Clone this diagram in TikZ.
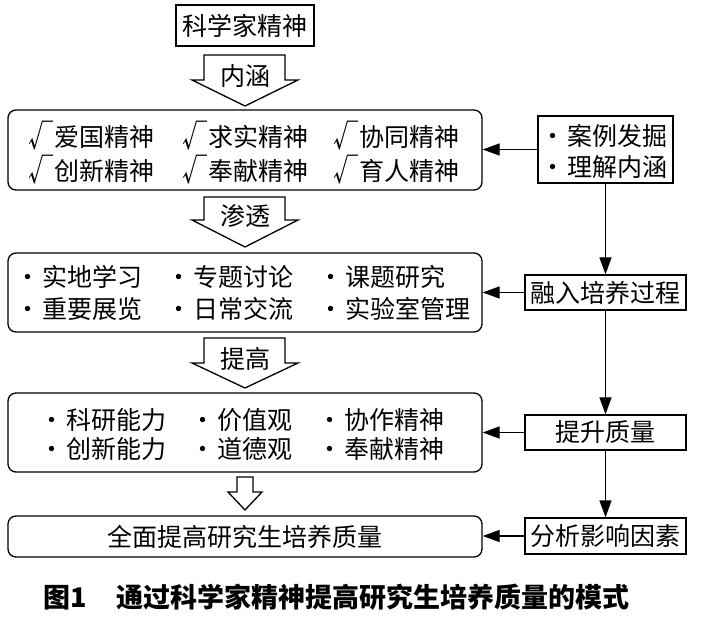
\documentclass[tikz,border=0pt]{standalone}
\usepackage{fontspec}
\setmainfont{Noto Sans CJK SC}
\usetikzlibrary{arrows.meta}
\newcommand\bul{\makebox[27pt][l]{·}}
\newcommand\chk{\makebox[26pt][l]{\raisebox{-1pt}{\scalebox{1}[1.2]{√}}}}
\tikzset{
  rbox/.style={draw, rounded corners=8pt, line width=1.3pt, inner sep=0pt},
  sbox/.style={draw, line width=1.3pt, inner sep=0pt, font=\fontsize{25}{25}\selectfont},
  conn/.style={line width=1.3pt, -{Triangle[length=17pt,width=12pt]}},
  barrow/.style={draw, line width=1.3pt, fill=white, line join=miter},
  txt/.style={font=\fontsize{25}{25}\selectfont, inner sep=0pt, anchor=west},
  lbl/.style={font=\fontsize{25}{25}\selectfont, inner sep=0pt},
}
\begin{document}
\begin{tikzpicture}[x=1pt,y=-1pt]
\useasboundingbox (0,0) rectangle (702,620);
\fill[white] (0,0) rectangle (702,620);

% left column boxes
\node[sbox, minimum width=138pt, minimum height=41pt] (top) at (245,25.5) {科学家精神};
\node[rbox, minimum width=474pt, minimum height=80pt] (b1) at (245,150) {};
\node[rbox, minimum width=474pt, minimum height=79pt] (b2) at (245,292.5) {};
\node[rbox, minimum width=474pt, minimum height=79pt] (b3) at (245,432.5) {};
\node[rbox, minimum width=474pt, minimum height=41pt, font=\fontsize{25}{25}\selectfont] (b4) at (245,536.5) {全面提高研究生培养质量};

% block arrows
\draw[barrow] (204,55) -- (285,55) -- (285,80) -- (298,80) -- (245,106) -- (192,80) -- (204,80) -- cycle;
\node[lbl] (l1) at (245,76) {内涵};
\draw[barrow] (204,197) -- (285,197) -- (285,220) -- (298,220) -- (245,247) -- (192,220) -- (204,220) -- cycle;
\node[lbl] (l2) at (245,216) {渗透};
\draw[barrow] (204,338) -- (285,338) -- (285,363) -- (298,363) -- (245,388) -- (192,363) -- (204,363) -- cycle;
\node[lbl] (l3) at (245,359) {提高};
\draw[barrow] (237,477) -- (253,477) -- (253,492) -- (262,492) -- (245,510) -- (228,492) -- (237,492) -- cycle;

% box 1 texts
\node[txt] (t11) at (28,136) {\chk 爱国精神};
\node[txt] (t12) at (182,136) {\chk 求实精神};
\node[txt] (t13) at (333,136) {\chk 协同精神};
\node[txt] (t14) at (28,170) {\chk 创新精神};
\node[txt] (t15) at (182,170) {\chk 奉献精神};
\node[txt] (t16) at (333,170) {\chk 育人精神};

% box 2 texts
\node[txt] (t21) at (15,277) {\bul 实地学习};
\node[txt] (t22) at (166,277) {\bul 专题讨论};
\node[txt] (t23) at (318,277) {\bul 课题研究};
\node[txt] (t24) at (15,309) {\bul 重要展览};
\node[txt] (t25) at (166,309) {\bul 日常交流};
\node[txt] (t26) at (318,309) {\bul 实验室管理};

% box 3 texts
\node[txt] (t31) at (39,420) {\bul 科研能力};
\node[txt] (t32) at (190,420) {\bul 价值观};
\node[txt] (t33) at (317,420) {\bul 协作精神};
\node[txt] (t34) at (39,449) {\bul 创新能力};
\node[txt] (t35) at (190,449) {\bul 道德观};
\node[txt] (t36) at (317,449) {\bul 奉献精神};

% right column
\node[sbox, minimum width=135pt, minimum height=67pt] (r1) at (605.5,149.5) {};
\node[txt] (t41) at (540,136) {\bul 案例发掘};
\node[txt] (t42) at (540,167) {\bul 理解内涵};
\node[sbox, minimum width=161pt, minimum height=35pt] (r2) at (605.5,292.5) {融入培养过程};
\node[sbox, minimum width=161pt, minimum height=35pt] (r3) at (605.5,432.5) {提升质量};
\node[sbox, minimum width=161pt, minimum height=36pt] (r4) at (605.5,536) {分析影响因素};

% connectors
\draw[conn] (r1.west) -- (r1.west -| b1.east);
\draw[conn] (r1.south) -- (r2.north);
\draw[conn] (r2.west) -- (r2.west -| b2.east);
\draw[conn] (r2.south) -- (r3.north);
\draw[conn] (r3.west) -- (r3.west -| b3.east);
\draw[conn] (r3.south) -- (r4.north);
\draw[conn] (r4.west) -- (r4.west -| b4.east);

% caption
\node[inner sep=0pt, anchor=west, font=\fontsize{27}{27}\selectfont\bfseries] (cap) at (43,597) {图1\hspace{30pt}通过科学家精神提高研究生培养质量的模式};
\end{tikzpicture}
\end{document}
